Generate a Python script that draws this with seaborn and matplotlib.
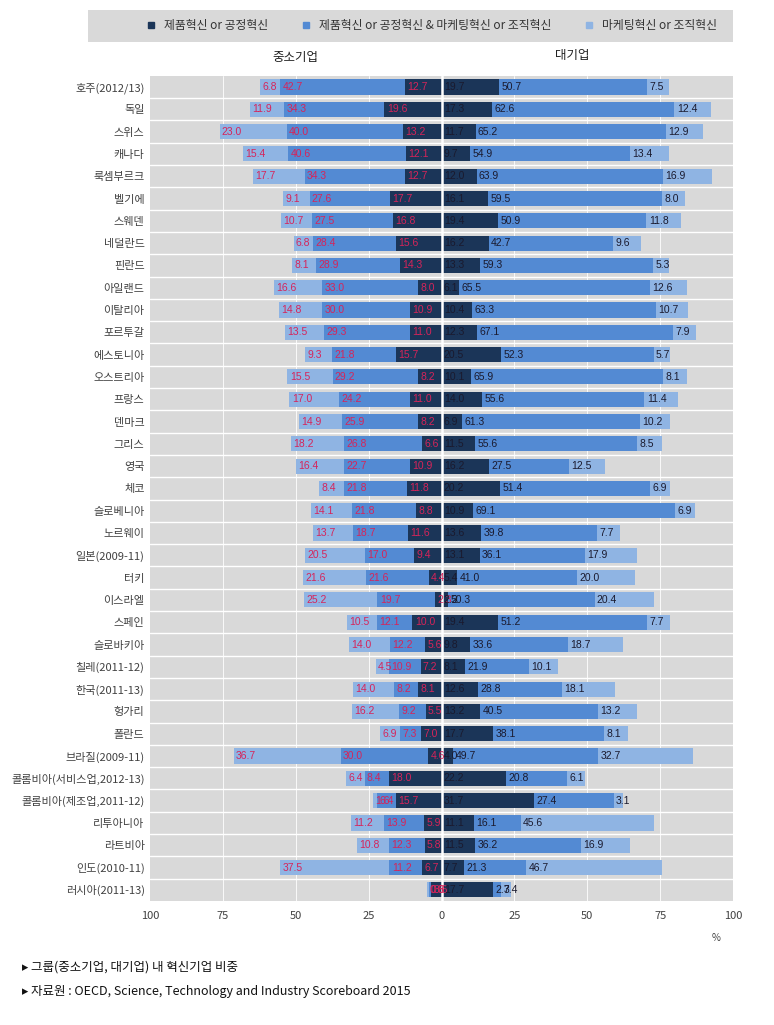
import numpy as np
import pandas as pd
import matplotlib
matplotlib.use("Agg")
import matplotlib.pyplot as plt
from matplotlib.lines import Line2D
import seaborn as sns

sns.set_style("white")
plt.rcParams['font.family'] = ['Noto Sans CJK KR', 'DejaVu Sans']

# Countries (top to bottom)
countries = ["호주(2012/13)", "독일", "스위스", "캐나다", "룩셈부르크", "벨기에", "스웨덴",
             "네덜란드", "핀란드", "아일랜드", "이탈리아", "포르투갈", "에스토니아", "오스트리아",
             "프랑스", "덴마크", "그리스", "영국", "체코", "슬로베니아", "노르웨이", "일본(2009-11)",
             "터키", "이스라엘", "스페인", "슬로바키아", "칠레(2011-12)", "한국(2011-13)", "헝가리",
             "폴란드", "브라질(2009-11)", "콜롬비아(서비스업,2012-13)", "콜롬비아(제조업,2011-12)",
             "리투아니아", "라트비아", "인도(2010-11)", "러시아(2011-13)"]

# SMEs (중소기업)
sme_prod = [12.7, 19.6, 13.2, 12.1, 12.7, 17.7, 16.8, 15.6, 14.3, 8.0, 10.9, 11.0, 15.7, 8.2,
            11.0, 8.2, 6.6, 10.9, 11.8, 8.8, 11.6, 9.4, 4.4, 2.3, 10.0, 5.6, 7.2, 8.1, 5.5,
            7.0, 4.6, 18.0, 15.7, 5.9, 5.8, 6.7, 3.6]
sme_both = [42.7, 34.3, 40.0, 40.6, 34.3, 27.6, 27.5, 28.4, 28.9, 33.0, 30.0, 29.3, 21.8, 29.2,
            24.2, 25.9, 26.8, 22.7, 21.8, 21.8, 18.7, 17.0, 21.6, 19.7, 12.1, 12.2, 10.9, 8.2, 9.2,
            7.3, 30.0, 8.4, 6.4, 13.9, 12.3, 11.2, 0.8]
sme_mkt = [6.8, 11.9, 23.0, 15.4, 17.7, 9.1, 10.7, 6.8, 8.1, 16.6, 14.8, 13.5, 9.3, 15.5,
           17.0, 14.9, 18.2, 16.4, 8.4, 14.1, 13.7, 20.5, 21.6, 25.2, 10.5, 14.0, 4.5, 14.0, 16.2,
           6.9, 36.7, 6.4, 1.6, 11.2, 10.8, 37.5, 0.6]

# Large firms (대기업)
lg_prod = [19.7, 17.3, 11.7, 9.7, 12.0, 16.1, 19.4, 16.2, 13.3, 6.1, 10.4, 12.3, 20.5, 10.1,
           14.0, 6.9, 11.5, 16.2, 20.2, 10.9, 13.6, 13.1, 5.4, 2.2, 19.4, 9.8, 8.1, 12.6, 13.2,
           17.7, 4.0, 22.2, 31.7, 11.1, 11.5, 7.7, 17.7]
lg_both = [50.7, 62.6, 65.2, 54.9, 63.9, 59.5, 50.9, 42.7, 59.3, 65.5, 63.3, 67.1, 52.3, 65.9,
           55.6, 61.3, 55.6, 27.5, 51.4, 69.1, 39.8, 36.1, 41.0, 50.3, 51.2, 33.6, 21.9, 28.8, 40.5,
           38.1, 49.7, 20.8, 27.4, 16.1, 36.2, 21.3, 2.7]
lg_mkt = [7.5, 12.4, 12.9, 13.4, 16.9, 8.0, 11.8, 9.6, 5.3, 12.6, 10.7, 7.9, 5.7, 8.1,
          11.4, 10.2, 8.5, 12.5, 6.9, 6.9, 7.7, 17.9, 20.0, 20.4, 7.7, 18.7, 10.1, 18.1, 13.2,
          8.1, 32.7, 6.1, 3.1, 45.6, 16.9, 46.7, 3.4]

legend_labels = ["제품혁신 or 공정혁신", "제품혁신 or 공정혁신 & 마케팅혁신 or 조직혁신", "마케팅혁신 or 조직혁신"]

c_dark = '#1b3558'
c_mid = '#538ad3'
c_light = '#8fb4e3'
c_bg = '#d9d9d9'
c_red = '#d6245a'

df = pd.DataFrame({
    'country': countries,
    'sme_prod': sme_prod, 'sme_both': sme_both, 'sme_mkt': sme_mkt,
    'lg_prod': lg_prod, 'lg_both': lg_both, 'lg_mkt': lg_mkt,
})

# cumulative totals for stacking (outer bars drawn first)
df['sme_c1'] = -df['sme_prod']
df['sme_c2'] = -(df['sme_prod'] + df['sme_both'])
df['sme_c3'] = -(df['sme_prod'] + df['sme_both'] + df['sme_mkt'])
df['lg_c1'] = df['lg_prod']
df['lg_c2'] = df['lg_prod'] + df['lg_both']
df['lg_c3'] = df['lg_prod'] + df['lg_both'] + df['lg_mkt']

fig = plt.figure(figsize=(7.74, 10.25), dpi=100)
ax = fig.add_axes([0.194, 0.121, 0.753, 0.805])
ax.set_facecolor(c_bg)

w = 0.68
for col, color in [('sme_c3', c_light), ('sme_c2', c_mid), ('sme_c1', c_dark),
                   ('lg_c3', c_light), ('lg_c2', c_mid), ('lg_c1', c_dark)]:
    sns.barplot(data=df, x=col, y='country', orient='h', color=color,
                width=w, saturation=1, linewidth=0, edgecolor='none', ax=ax, zorder=2)

n = len(countries)
ax.set_xlim(-100, 100)
ax.set_ylim(n - 0.5, -0.5)

# grid: white row separators and vertical lines
for i in range(n - 1):
    ax.axhline(i + 0.5, color='white', lw=1.0, zorder=1)
for v in [-75, -50, -25, 25, 50, 75]:
    ax.axvline(v, color='white', lw=0.6, zorder=1)
ax.axvline(0, color='white', lw=1.8, zorder=4)

# value labels at the start of each segment
fs = 7.5
lab_font = ['Liberation Sans Narrow', 'Liberation Sans', 'DejaVu Sans']
for i in range(n):
    starts_l = [df['sme_c3'][i], df['sme_c2'][i], df['sme_c1'][i]]
    vals_l = [df['sme_mkt'][i], df['sme_both'][i], df['sme_prod'][i]]
    for s, v in zip(starts_l, vals_l):
        ax.text(s + 0.8, i, f"{v:.1f}", color=c_red, fontsize=fs, va='center', ha='left',
                family=lab_font, zorder=5)
    starts_r = [0, df['lg_c1'][i], df['lg_c2'][i]]
    vals_r = [df['lg_prod'][i], df['lg_both'][i], df['lg_mkt'][i]]
    for s, v in zip(starts_r, vals_r):
        ax.text(s + 0.8, i, f"{v:.1f}", color='#1a1a2e', fontsize=fs, va='center', ha='left',
                family=lab_font, zorder=5)

ax.set_xticks([-100, -75, -50, -25, 0, 25, 50, 75, 100])
ax.set_xticklabels(['100', '75', '50', '25', '0', '25', '50', '75', '100'])
ax.set_xlabel('')
ax.set_ylabel('')
ax.tick_params(axis='both', length=0, labelsize=8, colors='#404040', pad=4)
ax.tick_params(axis='x', pad=7)
for sp in ax.spines.values():
    sp.set_visible(False)

# legend in grey band on top
handles = [Line2D([0], [0], marker='s', color='none', markerfacecolor=c, markeredgecolor=c,
                  markersize=5) for c in [c_dark, c_mid, c_light]]
fig.patches.append(plt.Rectangle((88 / 774, 1 - 42 / 1025), (733 - 88) / 774, 32 / 1025,
                                 transform=fig.transFigure, facecolor=c_bg, edgecolor='none'))
fig.legend(handles, legend_labels, loc='center', ncol=3, frameon=False, fontsize=8.5,
           bbox_to_anchor=(428 / 774, 1 - 26 / 1025), handletextpad=0.1, columnspacing=2.2,
           labelcolor='#333333')

fig.text(295 / 774, 1 - 57 / 1025, "중소기업", ha='center', va='center', fontsize=9, color='#222222')
fig.text(572 / 774, 1 - 56 / 1025, "대기업", ha='center', va='center', fontsize=9, color='#222222')
fig.text(716 / 774, 1 - 938 / 1025, "%", ha='center', va='center', fontsize=7, color='#404040')

fig.text(22 / 774, 1 - 967 / 1025, "▸ 그룹(중소기업, 대기업) 내 혁신기업 비중", ha='left', va='center',
         fontsize=9, color='#111111', family=['Noto Sans CJK KR', 'DejaVu Sans'])
fig.text(22 / 774, 1 - 992 / 1025, "▸ 자료원 : OECD, Science, Technology and Industry Scoreboard 2015",
         ha='left', va='center', fontsize=9, color='#111111', family=['Noto Sans CJK KR', 'DejaVu Sans'])

fig.savefig("out.png", dpi=100, facecolor='white')
